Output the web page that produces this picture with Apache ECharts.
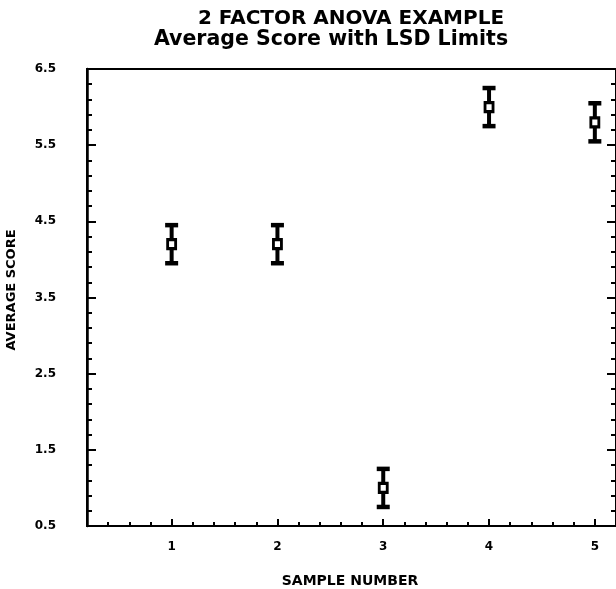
<!DOCTYPE html>
<html>
<head>
<meta charset="utf-8">
<script src="https://cdn.jsdelivr.net/npm/echarts@6/dist/echarts.min.js"></script>
<style>html,body{margin:0;padding:0;background:#fff}#c{width:616px;height:589px}</style>
</head>
<body>
<div id="c"></div>
<script>
// ---- data ----
const samples = [1, 2, 3, 4, 5];
const means = [4.2, 4.2, 1.0, 6.0, 5.8];
const lowerLSD = [3.95, 3.95, 0.75, 5.75, 5.55];
const upperLSD = [4.45, 4.45, 1.25, 6.25, 6.05];
const xTickLabels = [1, 2, 3, 4, 5];
const yTickLabels = [0.5, 1.5, 2.5, 3.5, 4.5, 5.5, 6.5];
const xMinorTicks = [0.4,0.6,0.8,1.2,1.4,1.6,1.8,2.2,2.4,2.6,2.8,3.2,3.4,3.6,3.8,4.2,4.4,4.6,4.8,5.2];
const yMinorTicks = [0.7,0.9,1.1,1.3,1.7,1.9,2.1,2.3,2.7,2.9,3.1,3.3,3.7,3.9,4.1,4.3,4.7,4.9,5.1,5.3,5.7,5.9,6.1,6.3];

const FONT = 'DejaVu Sans';
const chart = echarts.init(document.getElementById('c'), null, {renderer: 'canvas'});

const errData = samples.map((s, i) => [s, lowerLSD[i], upperLSD[i]]);
const ptData = samples.map((s, i) => [s, means[i]]);

const lineStyle = {color: '#000', width: 2};
function xAxisBase(extra) {
  return Object.assign({
    type: 'value', min: 0.2, max: 5.2, position: 'bottom',
    splitLine: {show: false},
    axisLine: {show: false, lineStyle: lineStyle}
  }, extra);
}
function yAxisBase(extra) {
  return Object.assign({
    type: 'value', min: 0.5, max: 6.5,
    splitLine: {show: false},
    axisLine: {show: false, lineStyle: {color: '#000', width: 2.5}}
  }, extra);
}

chart.setOption({
  animation: false,
  backgroundColor: '#fff',
  grid: {left: 87, top: 69, width: 532, height: 457, show: true, borderColor: '#000', borderWidth: 2, backgroundColor: 'transparent'},
  xAxis: [
    xAxisBase({
      axisLine: {show: true, onZero: false, lineStyle: lineStyle},
      axisTick: {show: true, inside: true, length: 4, lineStyle: {width: 2, color: '#000'}, customValues: xMinorTicks},
      axisLabel: {show: false}
    }),
    xAxisBase({
      axisTick: {show: true, inside: true, length: 7, lineStyle: {width: 2, color: '#000'}, customValues: xTickLabels},
      axisLabel: {show: true, customValues: xTickLabels, margin: 15, color: '#000', fontFamily: FONT, fontWeight: 'bold', fontSize: 12}
    })
  ],
  yAxis: [
    yAxisBase({
      position: 'left',
      axisLine: {show: true, onZero: false, lineStyle: {color: '#000', width: 2.5}},
      axisTick: {show: true, inside: true, length: 5, lineStyle: {width: 2, color: '#000'}, customValues: yMinorTicks},
      axisLabel: {show: false}
    }),
    yAxisBase({
      position: 'left',
      axisTick: {show: true, inside: true, length: 9, lineStyle: {width: 2, color: '#000'}, customValues: yTickLabels},
      axisLabel: {show: true, customValues: yTickLabels, margin: 31, color: '#000', fontFamily: FONT, fontWeight: 'bold', fontSize: 12,
        formatter: v => Number(v).toFixed(1)}
    }),
    yAxisBase({
      position: 'right',
      axisTick: {show: true, inside: true, length: 5, lineStyle: {width: 2, color: '#000'}, customValues: yMinorTicks},
      axisLabel: {show: false}
    }),
    yAxisBase({
      position: 'right',
      axisTick: {show: true, inside: true, length: 9, lineStyle: {width: 2, color: '#000'}, customValues: yTickLabels},
      axisLabel: {show: false}
    })
  ],
  graphic: [
    {type: 'text', x: 351, y: 19, style: {text: '2 FACTOR ANOVA EXAMPLE', fill: '#000', font: 'bold 20px "DejaVu Sans"', textAlign: 'center', textVerticalAlign: 'middle'}},
    {type: 'text', x: 331, y: 40, style: {text: 'Average Score with LSD Limits', fill: '#000', font: 'bold 20.5px "DejaVu Sans"', textAlign: 'center', textVerticalAlign: 'middle'}},
    {type: 'text', x: 350, y: 581, style: {text: 'SAMPLE NUMBER', fill: '#000', font: 'bold 14px "DejaVu Sans"', textAlign: 'center', textVerticalAlign: 'middle'}},
    {type: 'text', x: 12, y: 290, rotation: Math.PI / 2, style: {text: 'AVERAGE SCORE', fill: '#000', font: 'bold 13px "DejaVu Sans"', textAlign: 'center', textVerticalAlign: 'middle'}}
  ],
  series: [
    {
      type: 'custom', name: 'LSD limits', xAxisIndex: 0, yAxisIndex: 0,
      data: errData,
      renderItem: function (params, api) {
        const x = api.value(0);
        const lo = api.coord([x, api.value(1)]);
        const hi = api.coord([x, api.value(2)]);
        const hw = 6.5;
        const st = {stroke: '#000', lineWidth: 4};
        const cap = {stroke: '#000', lineWidth: 4.5};
        return {
          type: 'group',
          children: [
            {type: 'line', shape: {x1: lo[0], y1: lo[1], x2: hi[0], y2: hi[1]}, style: st},
            {type: 'line', shape: {x1: lo[0] - hw, y1: lo[1], x2: lo[0] + hw, y2: lo[1]}, style: cap},
            {type: 'line', shape: {x1: hi[0] - hw, y1: hi[1], x2: hi[0] + hw, y2: hi[1]}, style: cap}
          ]
        };
      },
      z: 2
    },
    {
      type: 'scatter', name: 'Average score', xAxisIndex: 0, yAxisIndex: 0,
      data: ptData,
      symbol: 'rect', symbolSize: [8, 9],
      itemStyle: {color: '#fff', borderColor: '#000', borderWidth: 3, opacity: 1},
      z: 3
    }
  ]
});
</script>
</body>
</html>
